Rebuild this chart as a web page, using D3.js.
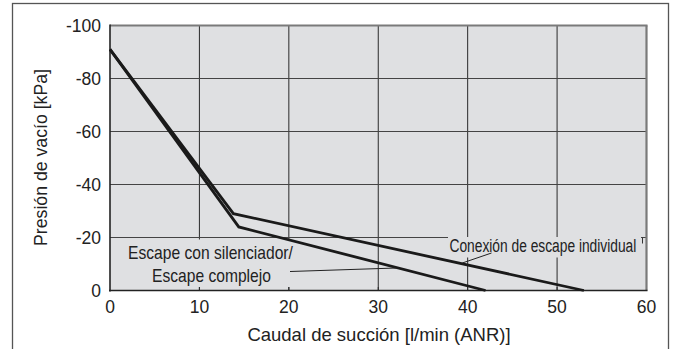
<!DOCTYPE html>
<html><head><meta charset="utf-8">
<script src="https://cdn.jsdelivr.net/npm/d3@7"></script>
<style>body{margin:0;background:#fff}svg{display:block}</style>
</head><body>
<svg id="c" width="675" height="349"></svg>
<script>
const xTicks = [0, 10, 20, 30, 40, 50, 60];
const yTicks = [0, -20, -40, -60, -80, -100];
const yTickLabels = ["0", "-20", "-40", "-60", "-80", "-100"];
const seriesNames = ["Conexión de escape individual", "Escape con silenciador/Escape complejo"];
const individualX = [0, 13.8, 53];
const individualY = [-91, -29, 0];
const silencerX = [0, 14.4, 42];
const silencerY = [-91, -24, 0];
const xTitle = "Caudal de succión [l/min (ANR)]";
const yTitle = "Presión de vacío [kPa]";

const svg = d3.select("#c");
const L = 110, R = 646.5, T = 25.5, B = 290.5;
const x = d3.scaleLinear().domain([0, 60]).range([L, R]);
const y = d3.scaleLinear().domain([0, -100]).range([B, T]);
const font = "'Liberation Sans', Arial, Helvetica, sans-serif";

// outer frame
svg.append("rect").attr("x", 12.5).attr("y", 3.5).attr("width", 656).attr("height", 360)
  .attr("fill", "none").attr("stroke", "#555").attr("stroke-width", 1.3);

// plot area
svg.append("rect").attr("x", L).attr("y", T).attr("width", R - L).attr("height", B - T).attr("fill", "#dfe0e2");

// grid
const g = svg.append("g");
g.selectAll(".vg").data(xTicks.slice(1, -1)).join("line")
  .attr("x1", d => x(d)).attr("x2", d => x(d)).attr("y1", T).attr("y2", B)
  .attr("stroke", "#2a2a2a").attr("stroke-width", 1);
g.selectAll(".hg").data(yTicks.slice(1, -1)).join("line")
  .attr("x1", L).attr("x2", R).attr("y1", d => y(d)).attr("y2", d => y(d))
  .attr("stroke", "#444").attr("stroke-width", 1.1);

// shadow edges top/right
svg.append("line").attr("x1", L).attr("x2", R + 1).attr("y1", T).attr("y2", T).attr("stroke", "#7a7a7a").attr("stroke-width", 2);
svg.append("line").attr("x1", R).attr("x2", R).attr("y1", T).attr("y2", B).attr("stroke", "#7a7a7a").attr("stroke-width", 2.2);

// label backgrounds (mask grid)
svg.append("rect").attr("x", L + 1).attr("y", 239.5).attr("width", 190).attr("height", 47.5).attr("fill", "#dfe0e2");
svg.append("rect").attr("x", 448).attr("y", 237).attr("width", 193).attr("height", 20.5).attr("fill", "#dfe0e2");
svg.append("line").attr("x1", 642.5).attr("x2", 642.5).attr("y1", 237.5).attr("y2", 243.5).attr("stroke", "#333").attr("stroke-width", 1);

// axes lines left/bottom
svg.append("line").attr("x1", L).attr("x2", L).attr("y1", T - 1).attr("y2", B + 1).attr("stroke", "#222").attr("stroke-width", 1.6);
svg.append("line").attr("x1", L - 1).attr("x2", R + 1).attr("y1", B).attr("y2", B).attr("stroke", "#222").attr("stroke-width", 1.6);

// small bottom ticks into plot
svg.selectAll(".bt").data(xTicks.slice(1, -1)).join("line")
  .attr("x1", d => x(d)).attr("x2", d => x(d)).attr("y1", B - 3.5).attr("y2", B)
  .attr("stroke", "#2a2a2a").attr("stroke-width", 1);

// tick labels
svg.selectAll(".yt").data(yTicks).join("text")
  .attr("x", L - 9).attr("y", d => y(d)).attr("dy", "0.36em").attr("text-anchor", "end")
  .attr("font-family", font).attr("font-size", 17.5).attr("fill", "#222")
  .text((d, i) => yTickLabels[i]);
svg.selectAll(".xt").data(xTicks).join("text")
  .attr("x", d => x(d)).attr("y", 312.5).attr("text-anchor", "middle")
  .attr("font-family", font).attr("font-size", 17.5).attr("fill", "#222")
  .text(d => d);

// titles
svg.append("text").attr("x", 379).attr("y", 341).attr("text-anchor", "middle")
  .attr("font-family", font).attr("font-size", 18.5).attr("fill", "#222").text(xTitle);
svg.append("text").attr("transform", "translate(47,157.5) rotate(-90)").attr("text-anchor", "middle")
  .attr("font-family", font).attr("font-size", 17.7).attr("fill", "#222").text(yTitle);

// lines
const line = d3.line().x(d => x(d[0])).y(d => y(d[1]));
[[individualX, individualY], [silencerX, silencerY]].forEach(([xs, ys]) => {
  svg.append("path").datum(xs.map((v, i) => [v, ys[i]])).attr("d", line)
    .attr("fill", "none").attr("stroke", "#1a1a1a").attr("stroke-width", 2.8).attr("stroke-linejoin", "miter");
});

// annotations: condensed via horizontal scaling to match reference widths
function condensed(txt, px, py, size, width) {
  const t = svg.append("text").attr("font-family", font).attr("font-size", size).attr("fill", "#222").text(txt);
  const w = t.node().getComputedTextLength();
  t.attr("transform", `translate(${px},${py}) scale(${width / w},1)`);
}
condensed("Escape con silenciador/", 128, 259, 17.5, 165);
condensed("Escape complejo", 152, 281.5, 17.5, 119);
condensed(seriesNames[0], 449.5, 252, 18, 187);

// leaders
svg.append("line").attr("x1", 290).attr("y1", 271.5).attr("x2", x(32)).attr("y2", 268)
  .attr("stroke", "#222").attr("stroke-width", 1);
svg.append("line").attr("x1", 491.5).attr("y1", 253).attr("x2", x(39.4)).attr("y2", 263)
  .attr("stroke", "#222").attr("stroke-width", 1);
</script>
</body></html>
